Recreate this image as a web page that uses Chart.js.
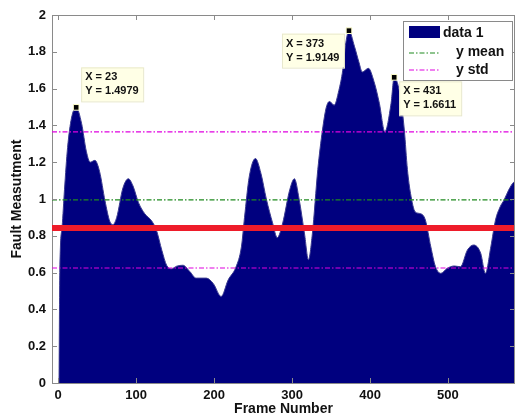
<!DOCTYPE html>
<html>
<head>
<meta charset="utf-8">
<script src="https://cdn.jsdelivr.net/npm/chart.js@4/dist/chart.umd.min.js"></script>
<style>
  body { margin: 0; background: #fff; }
  #wrap { width: 515px; height: 416px; }
</style>
</head>
<body>
<div id="wrap"><canvas id="fault-chart" width="515" height="416"></canvas></div>
<script>
const frames = [1, 2, 5, 8, 12, 17, 23, 30, 36, 41, 47, 53, 60, 66, 70, 75, 83, 90, 96, 103,
  111, 120, 126, 133, 139, 145, 152, 160, 169, 177, 190, 199, 209, 218, 228, 235, 239, 245,
  253, 260, 267, 275, 281, 288, 297, 303, 309, 316, 321, 326, 333, 339, 344, 348, 354, 360,
  365, 369, 373, 380, 386, 390, 398, 405, 412, 419, 427, 431, 439, 444, 448, 452, 458, 465,
  471, 478, 484, 491, 499, 508, 516, 525, 533, 542, 548, 555, 561, 567, 572, 578, 584, 590];
const faultValues = [0, 0.6, 0.85, 1.05, 1.28, 1.44, 1.4979, 1.41, 1.26, 1.2, 1.21, 1.15, 0.99,
  0.88, 0.86, 0.9, 1.06, 1.11, 1.07, 0.98, 0.92, 0.88, 0.83, 0.72, 0.64, 0.62, 0.635, 0.64,
  0.605, 0.57, 0.57, 0.54, 0.47, 0.56, 0.63, 0.74, 0.9, 1.12, 1.22, 1.14, 1.0, 0.87, 0.79,
  0.87, 1.05, 1.11, 1.0, 0.81, 0.67, 0.81, 1.16, 1.375, 1.5, 1.53, 1.51, 1.59, 1.7, 1.85,
  1.9149, 1.83, 1.74, 1.69, 1.71, 1.64, 1.52, 1.366, 1.52, 1.6611, 1.556, 1.375, 1.16, 1.03,
  0.93, 0.92, 0.886, 0.74, 0.632, 0.596, 0.623, 0.636, 0.632, 0.723, 0.75, 0.705, 0.596,
  0.74, 0.886, 0.958, 0.995, 1.05, 1.09, 1.1];

// reference lines
const yMean = 0.995;
const yStdHigh = 1.365;
const yStdLow = 0.625;
const redLevel = 0.842;

// data tips
const tipX = [23, 373, 431];
const tipY = [1.4979, 1.9149, 1.6611];

const xRange = [-8, 586];
const xTicks = [0, 100, 200, 300, 400, 500];
const yTicks = [0, 0.2, 0.4, 0.6, 0.8, 1, 1.2, 1.4, 1.6, 1.8, 2];

const NAVY = '#00007f';
const GREEN = '#1f8a1f';
const MAGENTA = '#e000e0';
const RED = '#ee1c2a';
const DASHDOT = [5, 2, 1.5, 2];

const points = frames.map((f, i) => ({ x: f, y: faultValues[i] }));
const hline = (v) => [{ x: xRange[0], y: v }, { x: xRange[1], y: v }];

// frame (top + right) and inward ticks, MATLAB style
const framePlugin = {
  id: 'frame',
  afterDraw(chart) {
    const { ctx, chartArea: a, scales } = chart;
    ctx.save();
    ctx.strokeStyle = '#8a8a8a';
    ctx.lineWidth = 1;
    ctx.beginPath();
    ctx.moveTo(a.left, a.top + 0.5);
    ctx.lineTo(a.right, a.top + 0.5);
    ctx.moveTo(a.right - 0.5, a.top);
    ctx.lineTo(a.right - 0.5, a.bottom);
    xTicks.forEach(t => {
      const px = Math.round(scales.x.getPixelForValue(t)) + 0.5;
      ctx.moveTo(px, a.top); ctx.lineTo(px, a.top + 5);
      ctx.moveTo(px, a.bottom); ctx.lineTo(px, a.bottom - 5);
    });
    yTicks.forEach(t => {
      const py = Math.round(scales.y.getPixelForValue(t)) + 0.5;
      ctx.moveTo(a.left, py); ctx.lineTo(a.left + 5, py);
      ctx.moveTo(a.right, py); ctx.lineTo(a.right - 5, py);
    });
    ctx.stroke();
    ctx.restore();
  }
};

// data tip boxes next to the black markers
const tipPlugin = {
  id: 'tips',
  afterDatasetsDraw(chart) {
    const { ctx, scales } = chart;
    const place = [
      { dx: 5, dy: -40 },
      { dx: -67, dy: 3 },
      { dx: 5, dy: 4 }
    ];
    ctx.save();
    ctx.font = 'bold 11px "Liberation Sans", Arial, sans-serif';
    ctx.textBaseline = 'middle';
    tipX.forEach((x, i) => {
      const px = scales.x.getPixelForValue(x);
      const py = scales.y.getPixelForValue(tipY[i]);
      const bx = px + place[i].dx, by = py + place[i].dy;
      ctx.fillStyle = '#ffffe6';
      ctx.fillRect(bx, by, 62, 34);
      ctx.strokeStyle = '#e8e8cc';
      ctx.strokeRect(bx + 0.5, by + 0.5, 62, 34);
      ctx.fillStyle = '#111';
      ctx.fillText('X = ' + x, bx + 4, by + 10);
      ctx.fillText('Y = ' + tipY[i].toFixed(4), bx + 4, by + 24);
    });
    ctx.restore();
  }
};

// legend box in the top right corner
const legendPlugin = {
  id: 'boxLegend',
  afterDraw(chart) {
    const ctx = chart.ctx;
    const x0 = 403, y0 = 21, w = 109, h = 59;
    ctx.save();
    ctx.fillStyle = '#fff';
    ctx.fillRect(x0, y0, w, h);
    ctx.strokeStyle = '#8a8a8a';
    ctx.lineWidth = 1;
    ctx.strokeRect(x0 + 0.5, y0 + 0.5, w, h);
    ctx.fillStyle = NAVY;
    ctx.fillRect(x0 + 6, y0 + 5, 31, 12);
    ctx.lineWidth = 1.2;
    ctx.setLineDash(DASHDOT);
    ctx.strokeStyle = GREEN;
    ctx.beginPath(); ctx.moveTo(x0 + 6, y0 + 32); ctx.lineTo(x0 + 37, y0 + 32); ctx.stroke();
    ctx.strokeStyle = MAGENTA;
    ctx.beginPath(); ctx.moveTo(x0 + 6, y0 + 49); ctx.lineTo(x0 + 37, y0 + 49); ctx.stroke();
    ctx.setLineDash([]);
    ctx.fillStyle = '#111';
    ctx.font = 'bold 14px "Liberation Sans", Arial, sans-serif';
    ctx.textBaseline = 'middle';
    ctx.fillText('data 1', x0 + 40, y0 + 12);
    ctx.fillText('y mean', x0 + 53, y0 + 31);
    ctx.fillText('y std', x0 + 53, y0 + 49);
    ctx.restore();
  }
};

const tickFont = { family: '"Liberation Sans", Arial, sans-serif', size: 13, weight: 'bold' };
const titleFont = { family: '"Liberation Sans", Arial, sans-serif', size: 14, weight: 'bold', lineHeight: 1 };

new Chart(document.getElementById('fault-chart'), {
  type: 'line',
  data: {
    datasets: [
      {
        label: 'data 1',
        data: points,
        backgroundColor: NAVY,
        borderColor: '#3a3a90',
        borderWidth: 1,
        fill: 'origin',
        pointRadius: 0,
        cubicInterpolationMode: 'monotone',
        order: 5
      },
      {
        label: 'y mean',
        data: hline(yMean),
        borderColor: GREEN,
        borderWidth: 1.2,
        borderDash: DASHDOT,
        pointRadius: 0,
        fill: false,
        order: 3
      },
      {
        label: 'y std',
        data: hline(yStdHigh),
        borderColor: MAGENTA,
        borderWidth: 1.2,
        borderDash: DASHDOT,
        pointRadius: 0,
        fill: false,
        order: 3
      },
      {
        label: 'y std low',
        data: hline(yStdLow),
        borderColor: MAGENTA,
        borderWidth: 1.2,
        borderDash: DASHDOT,
        pointRadius: 0,
        fill: false,
        order: 3
      },
      {
        label: 'threshold',
        data: hline(redLevel),
        borderColor: RED,
        borderWidth: 6,
        pointRadius: 0,
        fill: false,
        order: 2
      },
      {
        label: 'tips',
        data: tipX.map((x, i) => ({ x: x, y: tipY[i] })),
        showLine: false,
        pointStyle: 'rect',
        pointRadius: 4,
        pointBackgroundColor: '#000',
        pointBorderColor: '#ffffcc',
        pointBorderWidth: 1,
        order: 0
      }
    ]
  },
  options: {
    responsive: false,
    animation: false,
    devicePixelRatio: 1,
    layout: { autoPadding: false, padding: { top: 15, right: 0, left: 0, bottom: 0 } },
    plugins: {
      legend: { display: false },
      tooltip: { enabled: false }
    },
    scales: {
      x: {
        type: 'linear',
        min: xRange[0],
        max: xRange[1],
        afterBuildTicks: (s) => { s.ticks = xTicks.map(v => ({ value: v })); },
        afterFit: (s) => { s.height = 33; },
        grid: { display: false, drawTicks: false },
        border: { color: '#8a8a8a' },
        ticks: { color: '#111', font: tickFont, padding: 5, maxRotation: 0 },
        title: { display: true, text: 'Frame Number', color: '#111', font: titleFont, padding: { top: 0, bottom: 0 } }
      },
      y: {
        min: 0,
        max: 2,
        afterBuildTicks: (s) => { s.ticks = yTicks.map(v => ({ value: v })); },
        afterFit: (s) => { s.width = 52; },
        grid: { display: false, drawTicks: false },
        border: { color: '#8a8a8a' },
        ticks: { color: '#111', font: tickFont, padding: 6, callback: (v) => String(+v.toFixed(1)) },
        title: { display: true, text: 'Fault Measutment', color: '#111', font: titleFont, padding: { top: 10, bottom: 0 } }
      }
    }
  },
  plugins: [framePlugin, tipPlugin, legendPlugin]
});
</script>
</body>
</html>
